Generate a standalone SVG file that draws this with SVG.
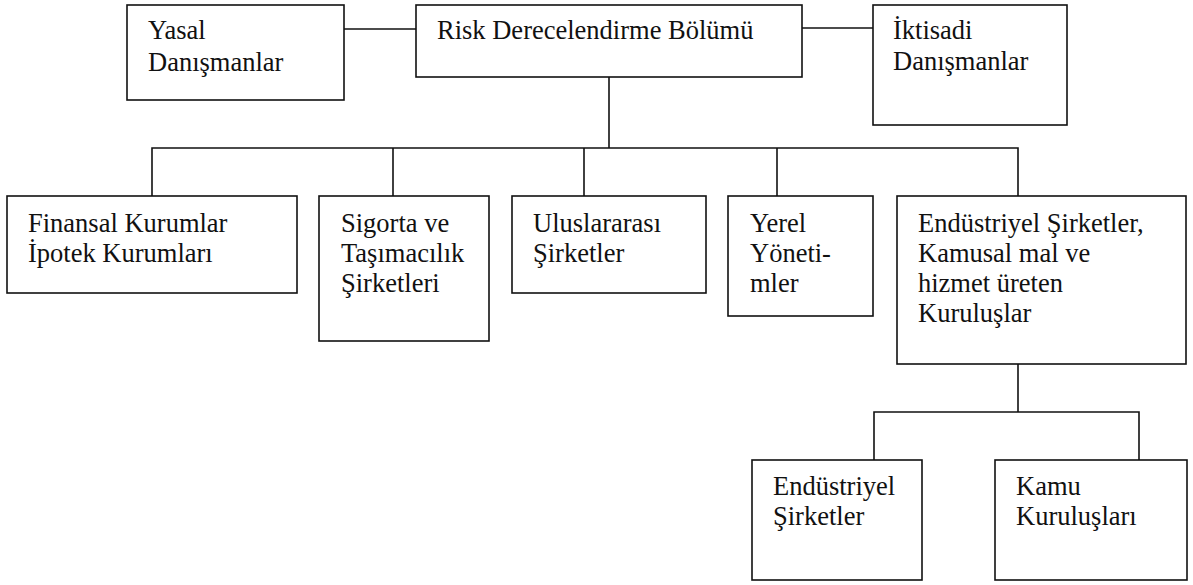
<svg xmlns="http://www.w3.org/2000/svg" width="1193" height="585" viewBox="0 0 1193 585">
<style>
.box{fill:#fff;stroke:#111;stroke-width:1.6}
.ln{fill:none;stroke:#111;stroke-width:1.6}
text{font-family:"Liberation Serif","Times New Roman",serif;font-size:26.5px;fill:#111}
</style>
<rect width="1193" height="585" fill="#fff"/>
<g id="connectors">
<path class="ln" d="M344 29H416"/>
<path class="ln" d="M802 28H873"/>
<path class="ln" d="M609 77V148"/>
<path class="ln" d="M152 196V148H1018V196"/>
<path class="ln" d="M393 148V196"/>
<path class="ln" d="M584 148V196"/>
<path class="ln" d="M777 148V196"/>
<path class="ln" d="M1018 364V412"/>
<path class="ln" d="M874 460V412H1139V460"/>
</g>
<g id="yasal"><rect class="box" x="127" y="5" width="217" height="95"/><text x="148" y="39">Yasal</text><text x="148" y="71">Danışmanlar</text></g>
<g id="risk"><rect class="box" x="416" y="5" width="386" height="72"/><text x="437" y="39">Risk Derecelendirme Bölümü</text></g>
<g id="iktisadi"><rect class="box" x="873" y="5" width="194" height="120"/><text x="893" y="39">İktisadi</text><text x="893" y="70">Danışmanlar</text></g>
<g id="finansal"><rect class="box" x="7" y="196" width="290" height="97"/><text x="28" y="232">Finansal Kurumlar</text><text x="28" y="262">İpotek Kurumları</text></g>
<g id="sigorta"><rect class="box" x="319" y="196" width="170" height="145"/><text x="341" y="232">Sigorta ve</text><text x="341" y="262">Taşımacılık</text><text x="341" y="292">Şirketleri</text></g>
<g id="uluslararasi"><rect class="box" x="512" y="196" width="194" height="97"/><text x="533" y="232">Uluslararası</text><text x="533" y="262">Şirketler</text></g>
<g id="yerel"><rect class="box" x="728" y="196" width="145" height="120"/><text x="750" y="232">Yerel</text><text x="750" y="262">Yöneti-</text><text x="750" y="292">mler</text></g>
<g id="endustriyel-kamusal"><rect class="box" x="897" y="196" width="289" height="168"/><text x="918" y="232">Endüstriyel Şirketler,</text><text x="918" y="262">Kamusal mal ve</text><text x="918" y="292">hizmet üreten</text><text x="918" y="322">Kuruluşlar</text></g>
<g id="endustriyel-sirketler"><rect class="box" x="752" y="460" width="170" height="120"/><text x="773" y="495">Endüstriyel</text><text x="773" y="525">Şirketler</text></g>
<g id="kamu"><rect class="box" x="995" y="460" width="192" height="120"/><text x="1016" y="495">Kamu</text><text x="1016" y="525">Kuruluşları</text></g>
</svg>
